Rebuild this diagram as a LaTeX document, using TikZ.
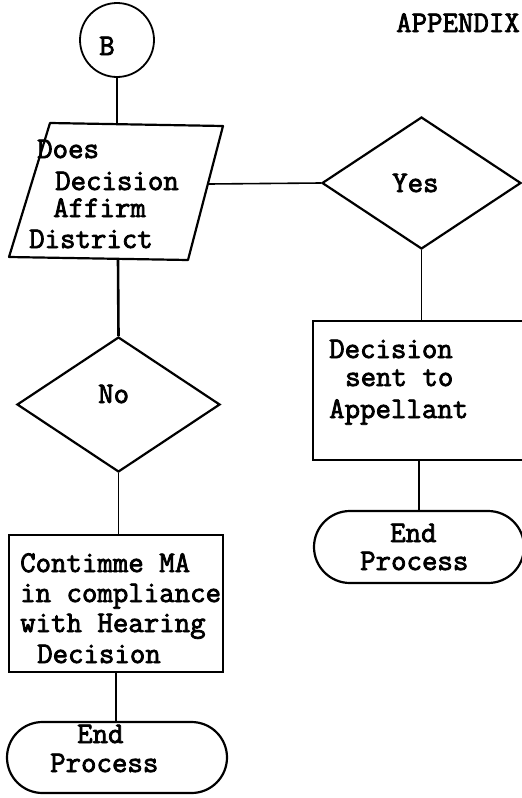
\documentclass[tikz,border=0pt]{standalone}
\usepackage{fontspec}
\newfontfamily\tw[FakeBold=2.6]{Latin Modern Mono}
\usetikzlibrary{shapes.geometric,shapes.misc}
\begin{document}
\begin{tikzpicture}[x=1pt,y=-1pt,
  outline/.style={draw, line width=2.2pt, inner sep=0pt},
  link/.style={line width=1.6pt},
  txt/.style={anchor=base west, inner sep=0pt, font=\fontsize{30}{30}\selectfont\tw},
]
\useasboundingbox (0,0) rectangle (522,798);

% heading
\node[txt] (hdr) at (396,32) {APPENDIX};

% connector circle
\node[outline, circle, minimum size=74pt, line width=1.8pt] (b) at (117,40) {};
\node[txt] (bl) at (99,55) {B};

% parallelogram
\coordinate (p1) at (50,123);
\coordinate (p2) at (223,126);
\coordinate (p3) at (188,260);
\coordinate (p4) at (9,257);
\draw[line width=2.2pt, line join=round] (p1) -- (p2) -- (p3) -- (p4) -- cycle;
\coordinate (ptop) at (117,124);
\coordinate (pright) at (209,184);
\coordinate (pbot) at (118,258.5);
\node[txt] (q1) at (37,158) {Does};
\node[txt] (q2) at (55,190) {Decision};
\node[txt] (q3) at (53,217) {Affirm};
\node[txt] (q4) at (29,248) {District};

% Yes branch
\node[outline, diamond, minimum width=199pt, minimum height=132pt] (yes) at (421.5,183) {};
\node[txt] (yest) at (392,192) {Yes};
\node[outline, rectangle, minimum width=217pt, minimum height=139pt] (dbox) at (421.5,390.5) {};
\node[txt] (d1) at (329,358) {Decision};
\node[txt] (d2) at (345,386) {sent to};
\node[txt] (d3) at (329,418) {Appellant};
\node[outline, rounded rectangle, minimum width=210pt, minimum height=72pt] (endr) at (419,547) {};
\node[txt] (e1) at (390,542) {End};
\node[txt] (e2) at (360,570) {Process};

% No branch
\node[outline, diamond, minimum width=203pt, minimum height=135pt] (no) at (118.5,404.5) {};
\node[txt] (not) at (98,403) {No};
\node[outline, rectangle, minimum width=214pt, minimum height=137pt] (cbox) at (116,603.5) {};
\node[txt] (c1) at (20,572) {Contimme MA};
\node[txt] (c2) at (20,602) {in compliance};
\node[txt] (c3) at (20,632) {with Hearing};
\node[txt] (c4) at (37,663) {Decision};
\node[outline, rounded rectangle, minimum width=220pt, minimum height=71pt] (endl) at (117,757.5) {};
\node[txt] (f1) at (77,743) {End};
\node[txt] (f2) at (50,772) {Process};

% connectors
\draw[link] (b) -- (ptop);
\draw[link] (pright) -- (yes.west);
\draw[link] (yes.south) -- (dbox.north);
\draw[link] (dbox.south -| endr.north) -- (endr.north);
\draw[link, line width=2.6pt] (pbot) -- (no.north);
\draw[link] (no.south) -- (no.south |- cbox.north);
\draw[link] (cbox.south) -- (cbox.south |- endl.north);
\end{tikzpicture}
\end{document}
